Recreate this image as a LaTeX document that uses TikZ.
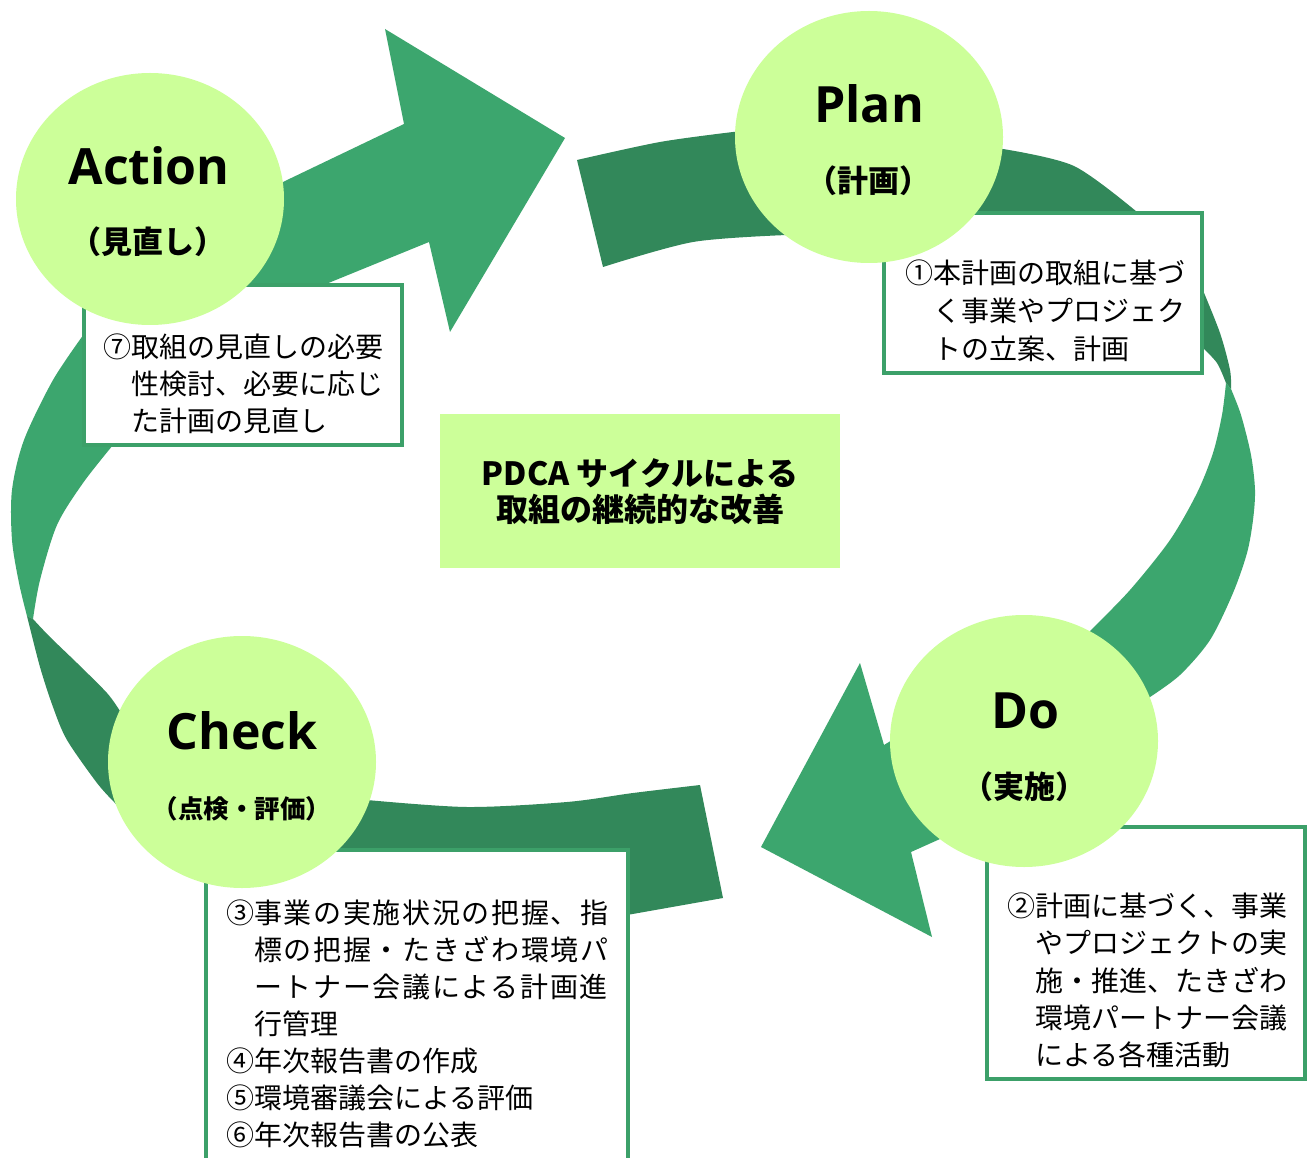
\documentclass[tikz,border=0pt]{standalone}
\usepackage{fontspec}
\newfontfamily\jp{Noto Sans CJK JP}
\newfontfamily\ttl{Open Sans}
\definecolor{lightg}{RGB}{60,166,110}
\definecolor{darkg}{RGB}{50,136,90}
\definecolor{boxg}{RGB}{60,160,105}
\definecolor{circ}{RGB}{204,255,153}
\newcommand\cnum[1]{\makebox[1em][l]{#1}}
\newcommand\spr[1]{{\addfontfeature{LetterSpace=6}#1}}
\begin{document}
\begin{tikzpicture}[x=1pt,y=-1pt,
  jtxt/.style={font=\jp\fontsize{28}{34}\selectfont, inner sep=0pt, anchor=base west},
  ttlt/.style={font=\ttl\bfseries\fontsize{50}{58}\selectfont, inner sep=0pt, anchor=base},
  subt/.style={font=\jp\bfseries\fontsize{31}{36}\selectfont, inner sep=0pt, anchor=base},
  subtsmall/.style={font=\jp\bfseries\fontsize{25.5}{30}\selectfont, inner sep=0pt, anchor=base},
  ctr/.style={font=\jp\bfseries\fontsize{32}{38}\selectfont, inner sep=0pt, anchor=base},
  txtframe/.style={draw=boxg, line width=4pt, fill=white},
  bubble/.style={fill=circ}]
\useasboundingbox (0,0) rectangle (1312,1158);
\fill[white] (0,0) rectangle (1312,1158);

% ---- right arrow, dark tail part (Plan)
\fill[darkg] (603,267) -- (577,160)
  -- plot[smooth] coordinates {(577,160) (660,142) (733,132)}
  -- (870,127) -- (1003,149)
  -- plot[smooth] coordinates {(1003,149) (1074,166) (1137,212)}
  -- (1185,250)
  -- plot[smooth] coordinates {(1202,288) (1220,333) (1230,370) (1231,389)}
  -- (1226,383)
  -- plot[smooth] coordinates {(1226,383) (1217,363) (1202,347)}
  -- (1150,315) -- (1050,280) -- (950,264) -- (860,256)
  -- plot[smooth] coordinates {(787,235) (693,242) (603,267)} -- cycle;

% ---- right arrow, light head part (Do)
\fill[lightg] (1226,383) -- (1231,389)
  -- plot[smooth] coordinates {(1231,389) (1241,415) (1251,455) (1255,490) (1253,520) (1247,553) (1233,593) (1210,640) (1180,675) (1150,697)}
  -- (1050,790) -- (940,839) -- (911,852) -- (932,937) -- (761,847) -- (860,663) -- (884,745)
  -- (990,680) -- (1090,631)
  -- plot[smooth] coordinates {(1090,631) (1130,590) (1170,540) (1197,493) (1213,453) (1222,415) (1226,383)} -- cycle;

% ---- left arrow, light head part (Action)
\fill[lightg] (27,616)
  -- plot[smooth] coordinates {(27,616) (19,583) (12,540) (12,490) (24,440) (53,380) (84,334)}
  -- (110,305) -- (150,265) -- (200,225) -- (285,181) -- (404,124) -- (385,29) -- (565,138)
  -- (450,332) -- (429,242) -- (326,284) -- (200,350) -- (113,445)
  -- plot[smooth] coordinates {(113,445) (83,483) (57,525) (40,580) (33,619)} -- cycle;

% ---- left arrow, dark tail part (Check)
\fill[darkg] (27,616) -- (33,619)
  -- plot[smooth] coordinates {(33,619) (50,637) (77,663) (107,693) (120,711)}
  -- (240,770) -- (367,800)
  -- plot[smooth] coordinates {(367,800) (467,807) (567,802) (633,793) (700,785)}
  -- (723,898) -- (627,915) -- (400,910) -- (210,880) -- (175,863) -- (150,843) -- (115,803)
  -- plot[smooth] coordinates {(115,803) (97,783) (67,740) (53,707) (40,667) (27,616)} -- cycle;

% ---- text frames
\draw[txtframe] (84,285) rectangle (402,445);
\draw[txtframe] (884,213) rectangle (1202,373);
\draw[txtframe] (987,827) rectangle (1305,1079);
\draw[txtframe] (206,850) rectangle (628,1175);

% ---- centre box
\fill[circ] (440,414) rectangle (840,568);
\node[ctr] (c1) at (640,485) {PDCA サイクルによる};
\node[ctr] (c2) at (640,521) {取組の継続的な改善};

% ---- bubbles
\fill[bubble] (150,199) ellipse [x radius=134, y radius=126];
\fill[bubble] (869,137) ellipse [x radius=134, y radius=126];
\fill[bubble] (1024,741) ellipse [x radius=134, y radius=126];
\fill[bubble] (242,762) ellipse [x radius=134, y radius=126];

\node[ttlt] (tA) at (149,184.5) {Action};
\node[subt] (sA) at (148,254) {（見直し）};
\node[ttlt] (tP) at (869,122.5) {Plan};
\node[subt] (sP) at (868,193) {（計画）};
\node[ttlt] (tD) at (1025,728.5) {Do};
\node[subt] (sD) at (1024,798) {（実施）};
\node[ttlt] (tC) at (242,749.5) {Check};
\node[subtsmall] (sC) at (242,818) {（点検・評価）};

% ---- Action text
\node[jtxt] (a1) at (103,357.5) {\cnum{⑦}取組の見直しの必要};
\node[jtxt] (a2) at (131,394.5) {性検討、必要に応じ};
\node[jtxt] (a3) at (131,431.5) {た計画の見直し};

% ---- Plan text
\node[jtxt] (p1) at (905,283.5) {\cnum{①}本計画の取組に基づ};
\node[jtxt] (p2) at (933,321.5) {く事業やプロジェク};
\node[jtxt] (p3) at (933,359.5) {トの立案、計画};

% ---- Do text
\node[jtxt] (d1) at (1007,916.5) {\cnum{②}計画に基づく、事業};
\node[jtxt] (d2) at (1035,953.5) {やプロジェクトの実};
\node[jtxt] (d3) at (1035,991) {施・推進、たきざわ};
\node[jtxt] (d4) at (1035,1028.5) {環境パートナー会議};
\node[jtxt] (d5) at (1035,1065.5) {による各種活動};

% ---- Check text
\node[jtxt] (k1) at (226,923.5) {\cnum{③}\spr{事業の実施状況の把握、指}};
\node[jtxt] (k2) at (254,960.5) {\spr{標の把握・たきざわ環境パ}};
\node[jtxt] (k3) at (254,997.5) {\spr{ートナー会議による計画進}};
\node[jtxt] (k4) at (254,1034.5) {行管理};
\node[jtxt] (k5) at (226,1071.5) {\cnum{④}年次報告書の作成};
\node[jtxt] (k6) at (226,1108.5) {\cnum{⑤}環境審議会による評価};
\node[jtxt] (k7) at (226,1145.5) {\cnum{⑥}年次報告書の公表};
\end{tikzpicture}
\end{document}
